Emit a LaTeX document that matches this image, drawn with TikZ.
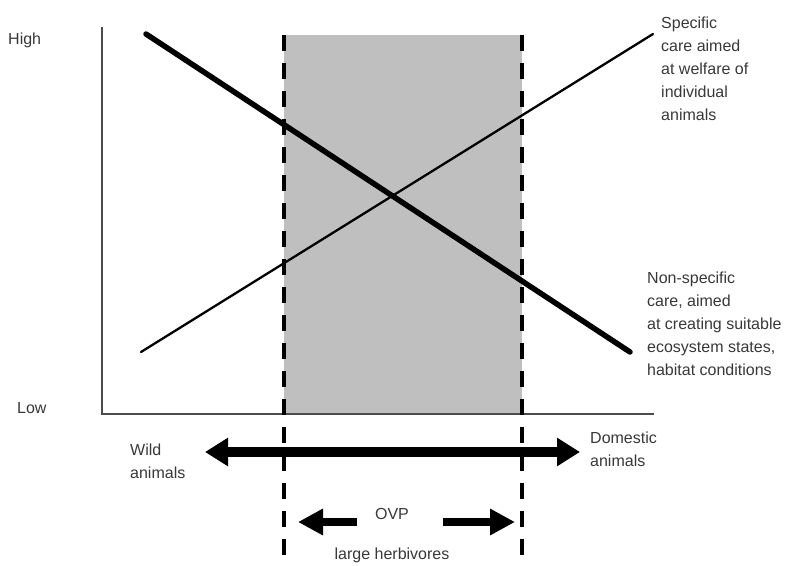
\documentclass[tikz,border=0pt]{standalone}
\usepackage{fontspec}
\setmainfont{Liberation Sans}
\usetikzlibrary{arrows.meta}

\begin{document}
\begin{tikzpicture}
[x=1pt,y=-1pt,
txt/.style={inner sep=0pt,text=black!78,font=\fontsize{16}{23}\selectfont},
multi/.style={txt,align=left,anchor=north west},
axis/.style={draw=black!70,line width=2pt},
zone/.style={draw=black,line width=3.5pt,dash pattern=on 16pt off 12pt},
trend/.style={draw=black,line cap=round},
bigarrow/.style={line width=10pt,{Triangle[length=23pt,width=27pt]}-{Triangle[length=23pt,width=27pt]}},
ovparrow/.style={line width=8pt,-{Triangle[length=25pt,width=25pt]}}]
\useasboundingbox (0,0) rectangle (787,565);
% shaded OVP zone
\fill[black!25] (284,35) rectangle (522,414);
% axes
\coordinate (top) at (102,27);
\coordinate (origin) at (102,414);
\coordinate (xend) at (654,414);
\draw[axis] (top) -- (origin) -- (xend);
\node at (8,44) [txt,anchor=base west] (high) {High};
\node at (17,413) [txt,anchor=base west] (low) {Low};
% trend lines
\coordinate (nsstart) at (146,34);
\coordinate (nsend) at (630,352);
\coordinate (spstart) at (141,352);
\coordinate (spend) at (653,34);
\draw[trend,line width=5.5pt] (nsstart) -- (nsend);
\draw[trend,line width=2.3pt] (spstart) -- (spend);
\node at (661,17) [multi] (specific) {Specific\\care aimed\\at welfare of\\individual\\animals};
\node at (647,272) [multi] (nonspecific) {Non-specific\\care, aimed\\at creating suitable\\ecosystem states,\\habitat conditions};
% zone borders
\coordinate (lefttop) at (284,35);
\coordinate (leftbot) at (284,570);
\coordinate (righttop) at (522,35);
\coordinate (rightbot) at (522,570);
\draw[zone] (lefttop) -- (leftbot);
\draw[zone] (righttop) -- (rightbot);
% wild - domestic
\node at (130,444) [multi] (wild) {Wild\\animals};
\node at (590,432) [multi] (domestic) {Domestic\\animals};
\coordinate (wildtip) at (205,452);
\coordinate (domtip) at (580,452);
\draw[bigarrow] (wildtip) -- (domtip);
% OVP
\node at (392,519) [txt,anchor=base] (ovp) {OVP};
\node at (392,559) [txt,anchor=base] (herb) {large herbivores};
\coordinate (ltail) at (357,522);
\coordinate (ltip) at (298,522);
\coordinate (rtail) at (443,522);
\coordinate (rtip) at (515,522);
\draw[ovparrow] (ltail) -- (ltip);
\draw[ovparrow] (rtail) -- (rtip);
\end{tikzpicture}
\end{document}
